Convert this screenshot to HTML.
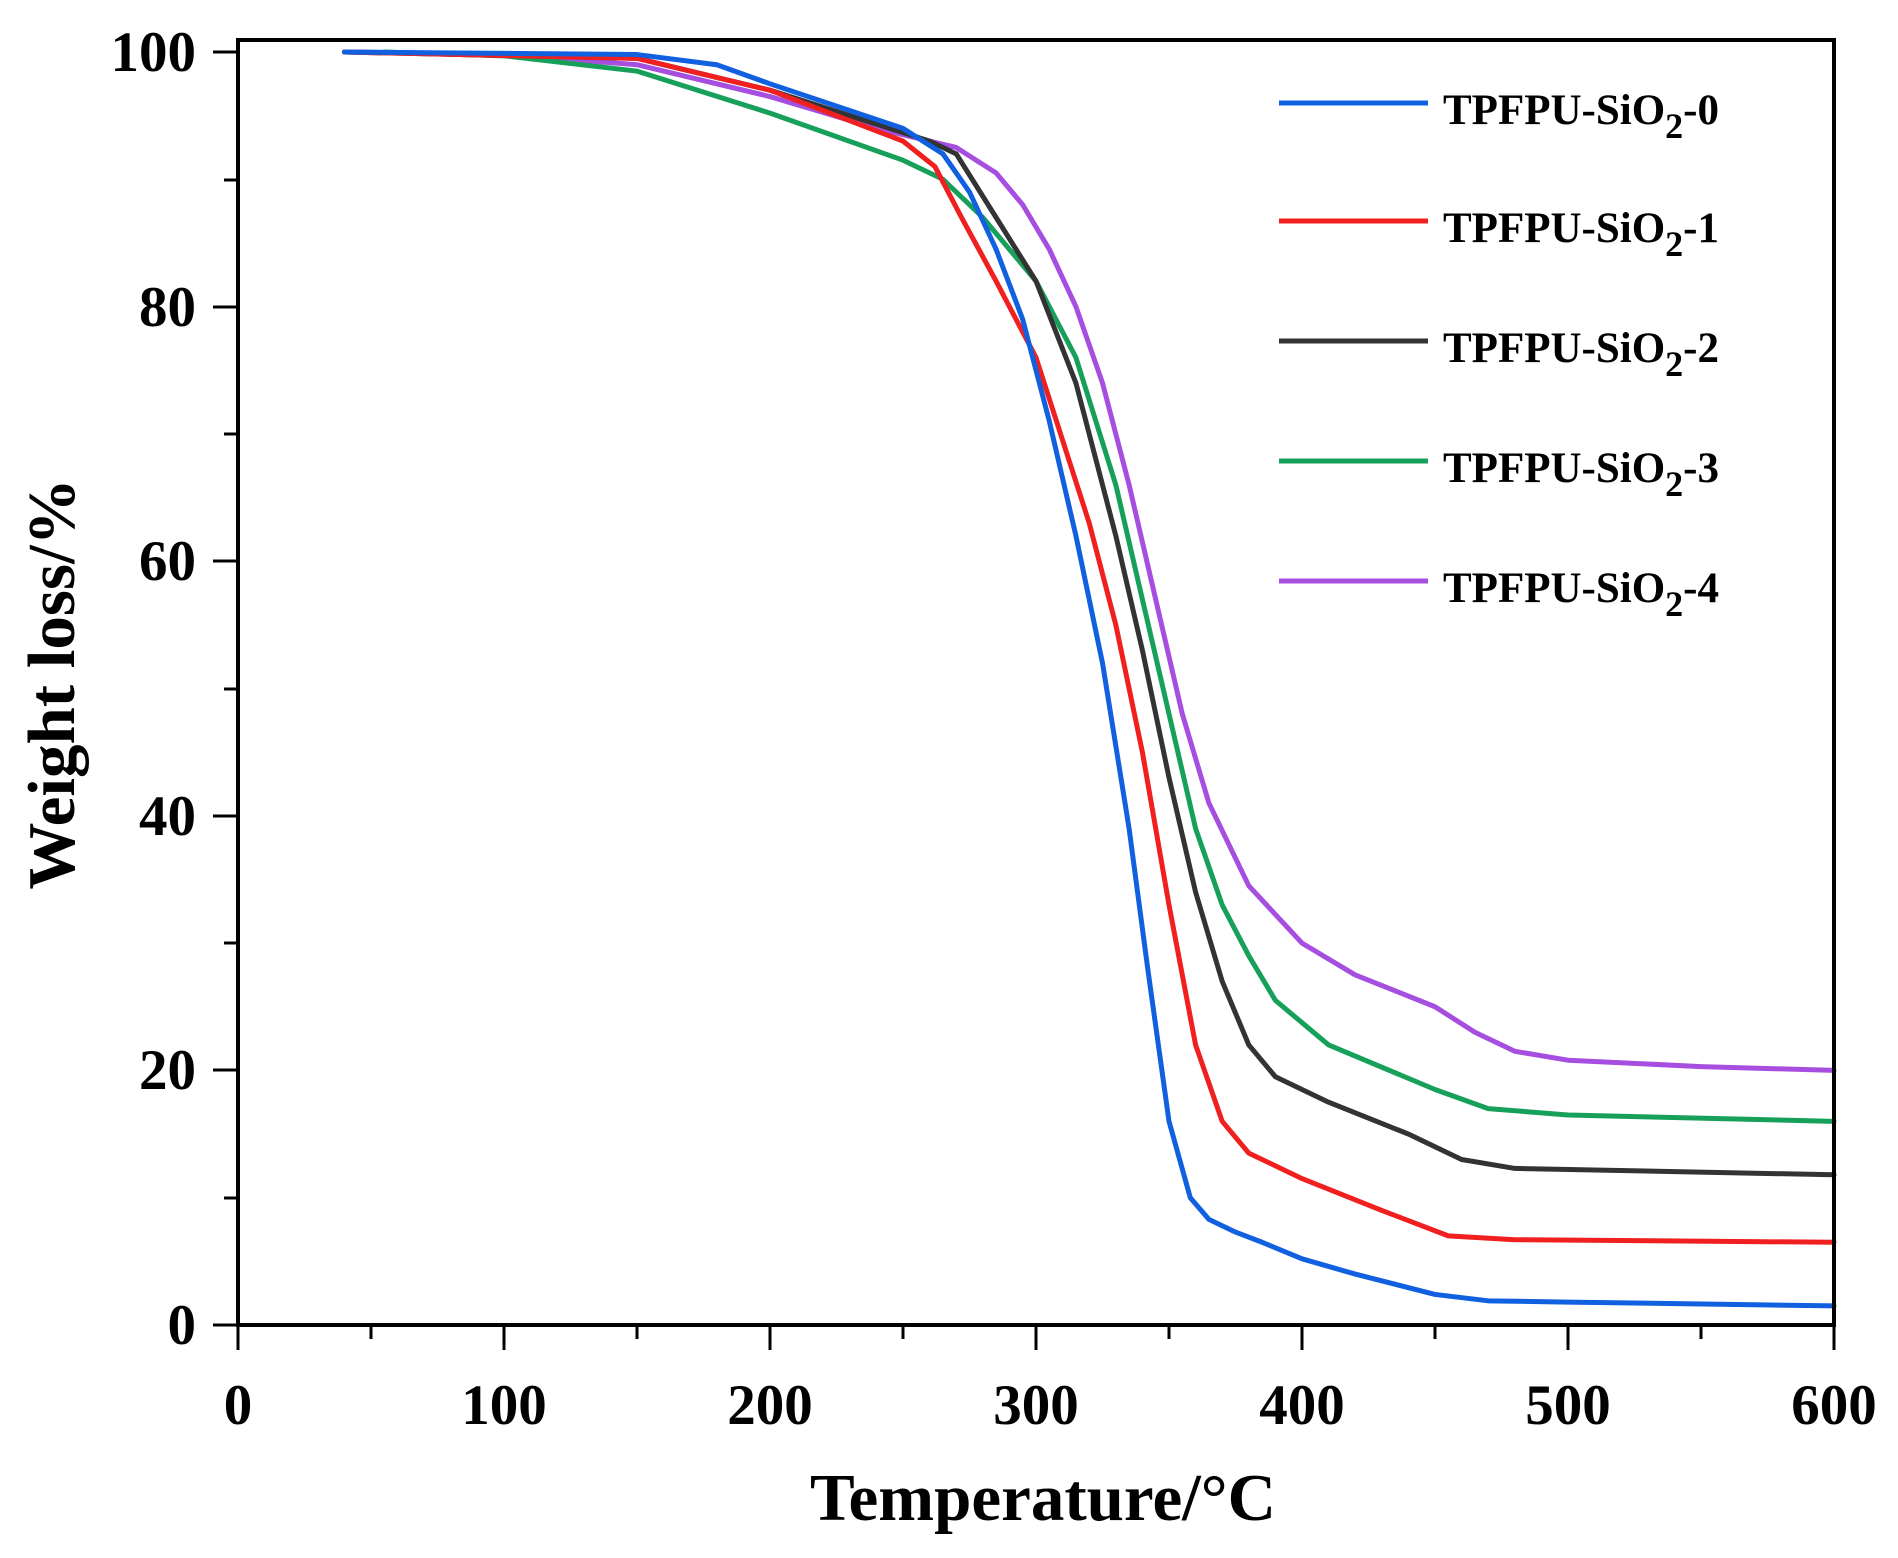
<!DOCTYPE html>
<html><head><meta charset="utf-8"><style>
html,body{margin:0;padding:0;background:#fff;}
svg{display:block;}
text{font-family:"Liberation Serif",serif;font-weight:bold;fill:#000;}
</style></head><body>
<svg width="1898" height="1558" viewBox="0 0 1898 1558" xmlns="http://www.w3.org/2000/svg">
<rect width="1898" height="1558" fill="#fff"/>
<g transform="translate(238,1325) scale(2.66,-12.73)" fill="none" stroke-width="5" stroke-linejoin="round" stroke-linecap="round">
<polyline vector-effect="non-scaling-stroke" stroke="#a64ee0" points="45,100 100,99.8 150,99 200,96.5 240,94 270,92.5 285,90.5 295,88 305,84.5 315,80 325,74 335,66 345,57 355,48 365,41 380,34.5 400,30 420,27.5 450,25 465,23 480,21.5 500,20.8 550,20.3 600,20"/>
<polyline vector-effect="non-scaling-stroke" stroke="#17a05a" points="55,100 100,99.7 150,98.5 200,95.2 250,91.5 265,90 280,87 300,82 315,76 330,66 340,57 350,48 360,39 370,33 380,29 390,25.5 410,22 450,18.5 470,17 500,16.5 600,16"/>
<polyline vector-effect="non-scaling-stroke" stroke="#333333" points="40,100 150,99.5 200,97 260,93 270,92 285,87 300,82 315,74 330,62 340,53 350,43 360,34 370,27 380,22 390,19.5 410,17.5 440,15 460,13 480,12.3 600,11.8"/>
<polyline vector-effect="non-scaling-stroke" stroke="#f02020" points="40,100 150,99.5 200,97 250,93 262,91 272,87 285,82 300,76 320,63 330,55 340,45 350,33 360,22 370,16 380,13.5 400,11.5 430,9 455,7 480,6.7 600,6.5"/>
<polyline vector-effect="non-scaling-stroke" stroke="#1060e0" points="40,100 150,99.8 180,99 200,97.5 250,94 265,92 275,89 285,84.5 295,79 305,71 315,62 325,52 335,39 342,28 350,16 358,10 365,8.3 375,7.3 385,6.5 400,5.2 420,4 450,2.4 470,1.9 500,1.8 600,1.5"/>
</g>
<g stroke="#000" stroke-width="4" fill="none">
<rect x="238" y="40" width="1596" height="1285"/>
</g>
<g stroke="#000" stroke-width="3">
<line x1="238" y1="1325" x2="238" y2="1350"/><line x1="504" y1="1325" x2="504" y2="1350"/><line x1="770" y1="1325" x2="770" y2="1350"/><line x1="1036" y1="1325" x2="1036" y2="1350"/><line x1="1302" y1="1325" x2="1302" y2="1350"/><line x1="1568" y1="1325" x2="1568" y2="1350"/><line x1="1834" y1="1325" x2="1834" y2="1350"/>
<line x1="371" y1="1325" x2="371" y2="1339"/><line x1="637" y1="1325" x2="637" y2="1339"/><line x1="903" y1="1325" x2="903" y2="1339"/><line x1="1169" y1="1325" x2="1169" y2="1339"/><line x1="1435" y1="1325" x2="1435" y2="1339"/><line x1="1701" y1="1325" x2="1701" y2="1339"/>
<line x1="213" y1="1325" x2="238" y2="1325"/><line x1="213" y1="1070" x2="238" y2="1070"/><line x1="213" y1="816" x2="238" y2="816"/><line x1="213" y1="561" x2="238" y2="561"/><line x1="213" y1="307" x2="238" y2="307"/><line x1="213" y1="52" x2="238" y2="52"/>
<line x1="224" y1="1198" x2="238" y2="1198"/><line x1="224" y1="943" x2="238" y2="943"/><line x1="224" y1="689" x2="238" y2="689"/><line x1="224" y1="434" x2="238" y2="434"/><line x1="224" y1="180" x2="238" y2="180"/>
</g>
<g font-size="57" text-anchor="middle">
<text x="238" y="1424">0</text><text x="504" y="1424">100</text><text x="770" y="1424">200</text><text x="1036" y="1424">300</text><text x="1302" y="1424">400</text><text x="1568" y="1424">500</text><text x="1834" y="1424">600</text>
</g>
<g font-size="57" text-anchor="end">
<text x="196" y="1344">0</text><text x="196" y="1089">20</text><text x="196" y="835">40</text><text x="196" y="580">60</text><text x="196" y="326">80</text><text x="196" y="71">100</text>
</g>
<text x="1043" y="1520" font-size="67" text-anchor="middle">Temperature/°C</text>
<text transform="translate(74,684) rotate(-90)" font-size="67" text-anchor="middle">Weight loss/%</text>
<g stroke-width="5">
<line x1="1279" y1="103" x2="1428" y2="103" stroke="#1060e0"/>
<line x1="1279" y1="221" x2="1428" y2="221" stroke="#f02020"/>
<line x1="1279" y1="341" x2="1428" y2="341" stroke="#333333"/>
<line x1="1279" y1="461" x2="1428" y2="461" stroke="#17a05a"/>
<line x1="1279" y1="581" x2="1428" y2="581" stroke="#a64ee0"/>
</g>
<g font-size="43">
<text x="1443" y="124">TPFPU-SiO<tspan dy="14" font-size="36">2</tspan><tspan dy="-14">-0</tspan></text>
<text x="1443" y="242">TPFPU-SiO<tspan dy="14" font-size="36">2</tspan><tspan dy="-14">-1</tspan></text>
<text x="1443" y="362">TPFPU-SiO<tspan dy="14" font-size="36">2</tspan><tspan dy="-14">-2</tspan></text>
<text x="1443" y="482">TPFPU-SiO<tspan dy="14" font-size="36">2</tspan><tspan dy="-14">-3</tspan></text>
<text x="1443" y="602">TPFPU-SiO<tspan dy="14" font-size="36">2</tspan><tspan dy="-14">-4</tspan></text>
</g>
</svg>
</body></html>
